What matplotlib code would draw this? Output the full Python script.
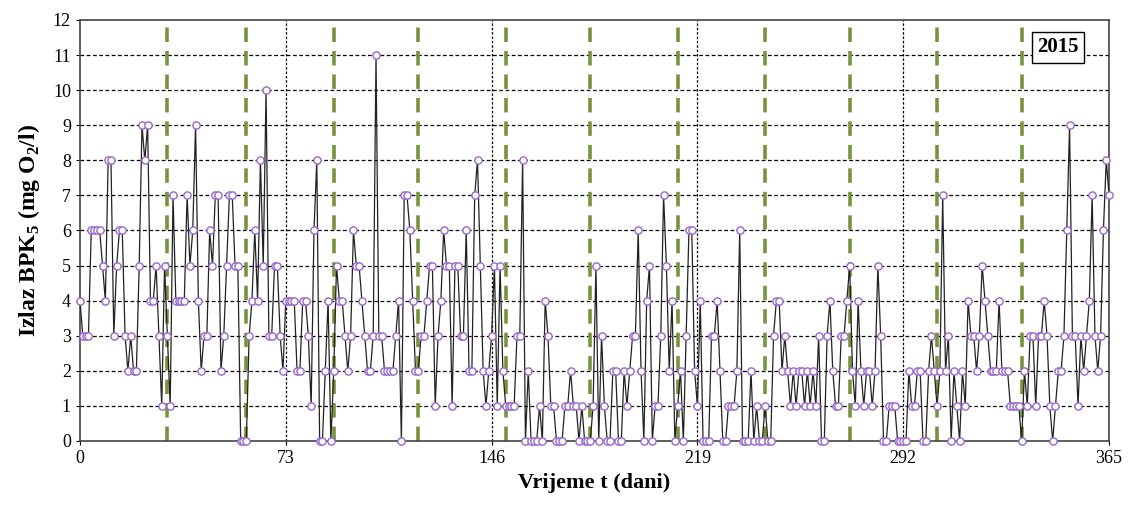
import matplotlib
matplotlib.use("Agg")
import matplotlib.pyplot as plt
import numpy as np

plt.rcParams["font.family"] = ["Liberation Serif", "DejaVu Serif"]
plt.rcParams["mathtext.fontset"] = "custom"
plt.rcParams["mathtext.rm"] = "Liberation Serif"
plt.rcParams["mathtext.bf"] = "Liberation Serif:bold"

# BPK5 output, one value per day (day 0 .. 365)
bpk5 = (
    [4, 3, 3, 3, 6, 6, 6, 6, 5, 4, 8, 8, 3, 5, 6, 6, 3, 2, 3, 2,
     2, 5, 9, 8, 9, 4, 4, 5, 3, 1, 5]
    + [3, 1, 7, 4, 4, 4, 4, 7, 5, 6, 9, 4, 2, 3, 3, 6, 5, 7, 7, 2,
       3, 5, 7, 7, 5, 5, 0, 0, 0, 3, 4, 6, 4]
    + [8, 5, 10, 3, 3, 5, 5, 3, 2, 4, 4, 4, 4, 2, 2, 4, 4, 3, 1, 6,
       8, 0, 0, 2, 4, 0, 2, 5, 4, 4, 3, 2]
    + [3, 6, 5, 5, 4, 3, 2, 2, 3, 11, 3, 3, 2, 2, 2, 2, 3, 4, 0, 7,
       7, 6, 4, 2, 2, 3, 3, 4, 5, 5]
    + [1, 3, 4, 6, 5, 5, 1, 5, 5, 3, 3, 6, 2, 2, 7, 8, 5, 2, 1, 2,
       3, 5, 1, 5, 2, 1, 1, 1, 1, 3, 3, 8, 0, 2]
    + [0, 0, 0, 1, 0, 4, 3, 1, 1, 0, 0, 0, 1, 1, 2, 1, 1, 0, 1, 0,
       0, 0, 1, 5, 0, 3, 1, 0, 0, 2, 2]
    + [0, 0, 2, 1, 2, 3, 3, 6, 2, 0, 4, 5, 0, 1, 1, 3, 7, 5, 2, 4,
       0, 1, 2, 0, 3, 6, 6, 2, 1, 4, 0, 0]
    + [0, 3, 3, 4, 2, 0, 0, 1, 1, 1, 2, 6, 0, 0, 0, 2, 0, 1, 0, 0,
       1, 0, 0, 3, 4, 4, 2, 3, 2, 1, 2, 1, 2]
    + [2, 1, 2, 1, 2, 1, 3, 0, 0, 3, 4, 2, 1, 1, 3, 3, 4, 5, 2, 1,
       4, 2, 1, 2, 2, 1, 2, 5, 3, 0, 0, 1, 1, 1, 0]
    + [0, 0, 0, 2, 1, 1, 2, 2, 0, 0, 2, 3, 2, 1, 2, 7, 2, 3, 0, 2,
       1, 0, 2, 1, 4, 3, 3, 2, 3, 5, 4, 3, 2, 2, 2, 4, 2, 2, 2, 1,
       1, 1, 1]
    + [0, 2, 1, 3, 3, 1, 3, 3, 4, 3, 1, 0, 1, 2, 2, 3, 6, 9, 3, 3,
       1, 3, 2, 3, 4, 7, 3, 2, 3, 6, 8, 7]
)
days = np.arange(len(bpk5))

# month boundaries (green dashed lines)
month_ends = [31, 59, 90, 120, 151, 181, 212, 243, 273, 304, 334]
x_ticks = [0, 73, 146, 219, 292, 365]
year_label = "2015"

fig = plt.figure(figsize=(11.28, 5.19), dpi=100)
ax = fig.add_axes([0.0709, 0.1503, 0.9123, 0.8112])

ax.set_xlim(0, 365)
ax.set_ylim(0, 12)

for yv in range(1, 12):
    ax.axhline(yv, color="black", lw=0.9, ls=(0, (3, 2)), zorder=1)
for xv in x_ticks[1:-1]:
    ax.axvline(xv, color="black", lw=0.9, ls=(0, (2, 1.5)), zorder=1)
for xv in month_ends:
    ax.axvline(xv, color="#77933C", lw=2.6, ls=(0, (4, 2.5)), zorder=2)

ax.plot(days, bpk5, color="#222222", lw=0.9, marker="o", ms=5.2,
        mfc="white", mec="#9966CC", mew=1.0, zorder=3, clip_on=False)

ax.set_xticks(x_ticks)
ax.set_yticks(range(0, 13))
ax.tick_params(labelsize=13, length=3, direction="out")
for s in ax.spines.values():
    s.set_color("#444444")
    s.set_linewidth(1.2)

ax.set_xlabel("Vrijeme t (dani)", fontsize=16, fontweight="bold", labelpad=4)
ax.set_ylabel(r"Izlaz BPK$_\mathbf{5}$ (mg O$_\mathbf{2}$/l)", fontsize=17,
              fontweight="bold", labelpad=8)

ax.text(0.950, 0.935, year_label, transform=ax.transAxes, fontsize=15,
        fontweight="bold", ha="center", va="center", zorder=5,
        bbox=dict(boxstyle="square,pad=0.25", fc="white", ec="black", lw=1.0))

fig.savefig("out.png", dpi=100)
